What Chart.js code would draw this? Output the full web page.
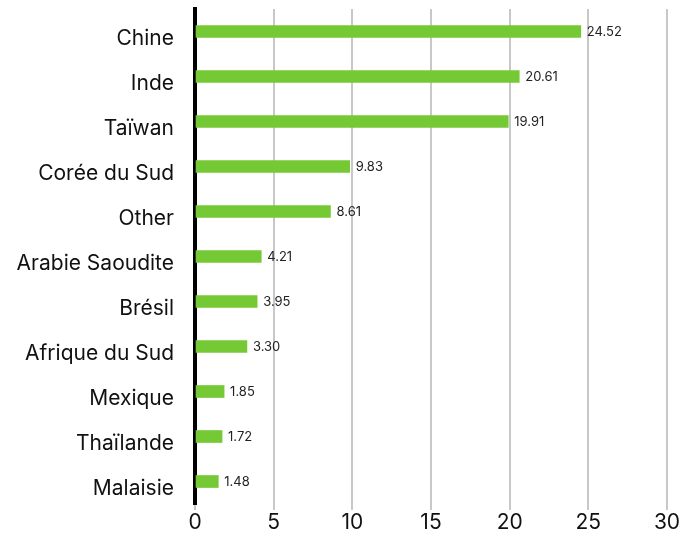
<!DOCTYPE html>
<html>
<head>
<meta charset="utf-8">
<script src="https://cdn.jsdelivr.net/npm/chart.js@4"></script>
<style>
  html, body { margin: 0; padding: 0; background: #fff; }
  #wrap { width: 692px; height: 536px; }
</style>
</head>
<body>
<div id="wrap"><canvas id="chart"></canvas></div>
<script>
const countries = ['Chine', 'Inde', 'Taïwan', 'Corée du Sud', 'Other', 'Arabie Saoudite',
  'Brésil', 'Afrique du Sud', 'Mexique', 'Thaïlande', 'Malaisie'];
const weights = [24.52, 20.61, 19.91, 9.83, 8.61, 4.21, 3.95, 3.30, 1.85, 1.72, 1.48];
const xTicks = [0, 5, 10, 15, 20, 25, 30];

const FONT = 'Inter, "Noto Sans", sans-serif';

// value printed just right of each bar
const valueLabels = {
  id: 'valueLabels',
  afterDatasetsDraw(chart) {
    const ctx = chart.ctx;
    const meta = chart.getDatasetMeta(0);
    ctx.save();
    ctx.font = '13px ' + FONT;
    ctx.fillStyle = '#222';
    ctx.textAlign = 'left';
    ctx.textBaseline = 'middle';
    meta.data.forEach((bar, i) => {
      ctx.fillText(weights[i].toFixed(2), bar.x + 6, bar.y + 1);
    });
    ctx.restore();
  }
};

new Chart(document.getElementById('chart'), {
  type: 'bar',
  data: {
    labels: countries,
    datasets: [{
      data: weights,
      backgroundColor: '#74C935',
      barThickness: 12
    }]
  },
  options: {
    indexAxis: 'y',
    responsive: true,
    maintainAspectRatio: false,
    animation: false,
    layout: { padding: { top: 9, right: 25, bottom: 0, left: 0 } },
    plugins: { legend: { display: false }, tooltip: { enabled: false } },
    scales: {
      x: {
        min: 0,
        max: 30,
        afterBuildTicks: axis => { axis.ticks = xTicks.map(v => ({ value: v })); },
        afterFit: axis => { axis.height = 32; axis.paddingLeft = 0; axis.paddingRight = 0; },
        grid: { color: '#c8c8c8', lineWidth: 2, drawTicks: true, tickLength: 6, tickColor: '#c8c8c8' },
        border: { display: false },
        ticks: { color: '#111', font: { family: FONT, size: 21 }, padding: 0 }
      },
      y: {
        afterFit: axis => { axis.width = 195; axis.paddingTop = 0; axis.paddingBottom = 0; },
        grid: { display: false },
        border: { display: true, color: '#000', width: 4 },
        ticks: { color: '#111', font: { family: FONT, size: 21 }, padding: 13, labelOffset: 7 }
      }
    }
  },
  plugins: [valueLabels]
});
</script>
</body>
</html>
